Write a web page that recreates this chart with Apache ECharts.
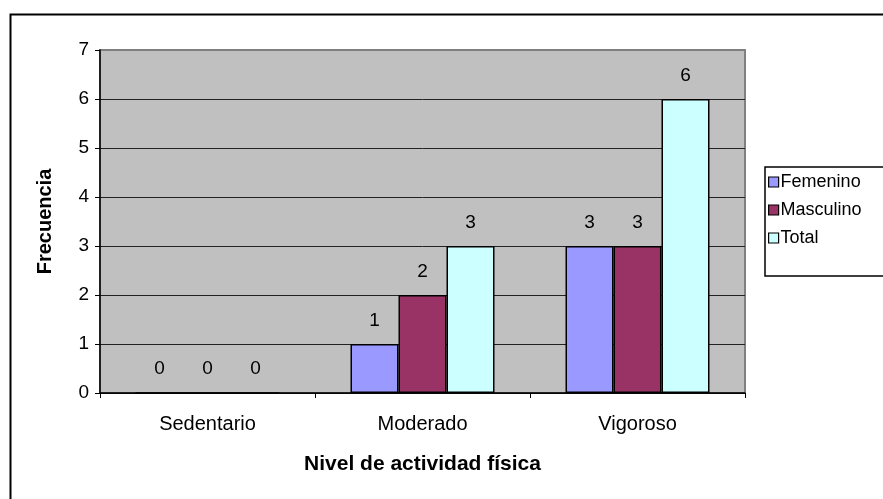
<!DOCTYPE html>
<html>
<head>
<meta charset="utf-8">
<script src="https://cdn.jsdelivr.net/npm/echarts@6/dist/echarts.min.js"></script>
<style>html,body{margin:0;padding:0;background:#fff;}#c{width:883px;height:499px;}</style>
</head>
<body>
<div id="c"></div>
<script>
const categories = ['Sedentario', 'Moderado', 'Vigoroso'];
const seriesNames = ['Femenino', 'Masculino', 'Total'];
const femenino = [0, 1, 3];
const masculino = [0, 2, 3];
const total = [0, 3, 6];
const yTicks = [0, 1, 2, 3, 4, 5, 6, 7];
const colors = ['#9999FF', '#993366', '#CCFFFF'];

const FONT = '"Liberation Sans", Arial, sans-serif';
const chart = echarts.init(document.getElementById('c'), null, {renderer: 'canvas'});

function mkSeries(name, data, color) {
  return {
    name: name, type: 'bar', data: data,
    barWidth: 48, barGap: '0%',
    itemStyle: {color: color, borderColor: '#000', borderWidth: 1.5},
    label: {show: true, position: 'top', distance: 14, color: '#000', fontFamily: FONT, fontSize: 19},
    emphasis: {disabled: true}, animation: false
  };
}

chart.setOption({
  animation: false,
  textStyle: {fontFamily: FONT},
  grid: {left: 100, top: 50, right: 138, bottom: 106, show: true, backgroundColor: '#C0C0C0',
         borderColor: '#808080', borderWidth: 2, containLabel: false, outerBoundsMode: 'none'},
  legend: {
    orient: 'vertical', left: 765, top: 167,
    data: seriesNames,
    itemWidth: 10, itemHeight: 10, itemGap: 10,
    padding: [6, 30, 29, 3],
    borderColor: '#000', borderWidth: 1.5, backgroundColor: '#fff',
    icon: 'rect',
    textStyle: {fontFamily: FONT, fontSize: 18, color: '#000', padding: [0, 0, 0, -3]},
    itemStyle: {borderColor: '#000', borderWidth: 1.2}
  },
  xAxis: {
    type: 'category', data: categories,
    axisLine: {show: true, lineStyle: {color: '#000', width: 1.5}},
    axisTick: {show: true, length: 5, lineStyle: {color: '#000'}},
    axisLabel: {color: '#000', fontSize: 20, fontFamily: FONT, margin: 21},
    name: 'Nivel de actividad física', nameLocation: 'middle', nameGap: 61,
    nameTextStyle: {color: '#000', fontSize: 21, fontWeight: 'bold', fontFamily: FONT}
  },
  yAxis: {
    type: 'value', min: 0, max: 7, interval: 1,
    axisLine: {show: true, lineStyle: {color: '#000', width: 1.5}},
    axisTick: {show: true, length: 5, lineStyle: {color: '#000'}},
    axisLabel: {color: '#000', fontSize: 19, fontFamily: FONT, margin: 11,
                formatter: function (v) { return yTicks.indexOf(v) >= 0 ? String(v) : ''; }},
    splitLine: {show: true, showMaxLine: false, lineStyle: {color: '#222', width: 1}},
    name: 'Frecuencia', nameLocation: 'middle', nameGap: 45, nameRotate: 90,
    nameTextStyle: {color: '#000', fontSize: 20, fontWeight: 'bold', fontFamily: FONT}
  },
  series: [
    mkSeries(seriesNames[0], femenino, colors[0]),
    mkSeries(seriesNames[1], masculino, colors[1]),
    mkSeries(seriesNames[2], total, colors[2])
  ],
  graphic: [{
    type: 'rect', left: 8, top: 12, silent: true, z: 100,
    shape: {width: 1000, height: 1000},
    style: {fill: 'none', stroke: '#000', lineWidth: 2}
  }]
});
</script>
</body>
</html>
